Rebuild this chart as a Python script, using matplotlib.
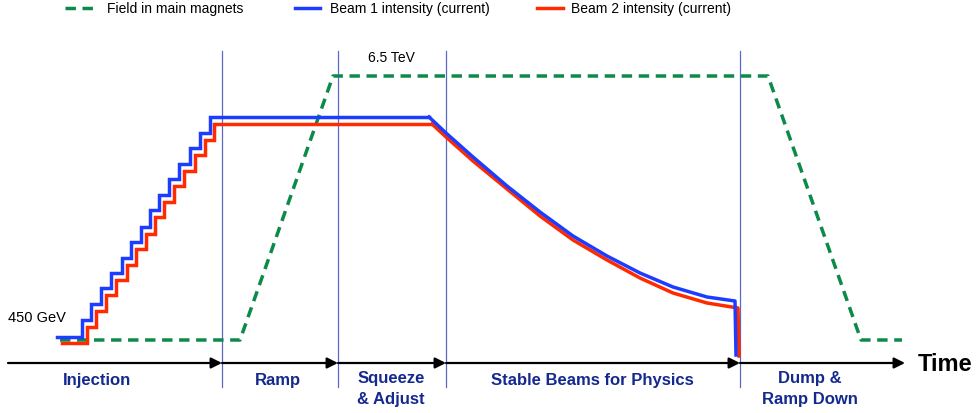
import matplotlib.pyplot as plt
from matplotlib.patches import FancyArrowPatch

plt.rcParams['font.family'] = ['Liberation Sans', 'DejaVu Sans']

# schematic units: x = time, y = level (arbitrary)
# beam 1 injection steps
b1_step_t = [57, 82, 91, 101, 111, 122, 131, 141, 150, 159, 169, 179, 190, 200, 210]
b1_step_v = [76, 93, 109, 125, 140, 155, 171, 186, 203, 218, 234, 249, 265, 280, 296]
# beam 1 flat top end + decay during physics + dump
b1_decay_t = [429, 446, 473, 507, 540, 573, 607, 640, 673, 707, 735, 736]
b1_decay_v = [296, 280, 256, 227, 201, 177, 157, 140, 126, 116, 112, 58]

# beam 2
b2_step_t = [62, 87, 96, 106, 116, 127, 136, 146, 155, 164, 174, 184, 195, 205, 214]
b2_step_v = [70, 86, 102, 118, 133, 148, 164, 179, 196, 211, 227, 242, 258, 273, 289]
b2_decay_t = [432, 446, 473, 507, 540, 573, 607, 640, 673, 707, 738, 739]
b2_decay_v = [289, 276, 252, 224, 197, 173, 153, 135, 120, 110, 105, 57]

# magnet field
field_t = [60, 240, 333, 768, 861, 902]
field_v = [73, 73, 337, 337, 73, 73]

# phase boundaries and labels
phase_edges = [8, 222, 338, 446, 740, 905]
phase_labels = ["Injection", "Ramp", "Squeeze\n& Adjust", "Stable Beams for Physics", "Dump &\nRamp Down"]
label_x = [97, 278, 391, 592, 810]

BLUE = "#1c3dff"
RED = "#ff2a00"
GREEN = "#0b8a4a"
NAVY = "#14298f"
VLINE = "#5a6ac4"
LW = 2.5

fig = plt.figure(figsize=(9.8, 4.14), dpi=100)
ax = fig.add_axes([0, 0, 1, 1])
ax.set_xlim(0, 980)
ax.set_ylim(0, 414)
ax.axis("off")

axis_y = 50

# vertical phase separators
for e in phase_edges[1:-1]:
    ax.plot([e, e], [26, 362], color=VLINE, lw=0.9, zorder=1)

# time axis arrows (one per phase)
for a, b in zip(phase_edges[:-1], phase_edges[1:]):
    ax.add_patch(FancyArrowPatch((a, axis_y), (b, axis_y), arrowstyle="-|>",
                                 mutation_scale=16, color="black", lw=1.6,
                                 shrinkA=0, shrinkB=0, zorder=2))

# field
ax.plot(field_t, field_v, color=GREEN, lw=LW, dashes=(3.0, 1.9), zorder=3)

# beams
ax.plot(b2_step_t + [b2_decay_t[0]], b2_step_v + [b2_step_v[-1]], color=RED, lw=LW,
        drawstyle="steps-post", zorder=4, solid_joinstyle="miter")
ax.plot(b2_decay_t, b2_decay_v, color=RED, lw=LW, zorder=4, solid_joinstyle="round")

ax.plot(b1_step_t + [b1_decay_t[0]], b1_step_v + [b1_step_v[-1]], color=BLUE, lw=LW,
        drawstyle="steps-post", zorder=5, solid_joinstyle="miter")
ax.plot(b1_decay_t, b1_decay_v, color=BLUE, lw=LW, zorder=5, solid_joinstyle="round")

# annotations
ax.text(8, 96, "450 GeV", fontsize=10.5, va="center", ha="left")
ax.text(368, 356, "6.5 TeV", fontsize=10, va="center", ha="left")
ax.text(918, 49, "Time", fontsize=17, fontweight="bold", va="center", ha="left")

for lx, lab in zip(label_x, phase_labels):
    if "\n" in lab:
        l1, l2 = lab.split("\n")
        ax.text(lx, 35, l1, fontsize=12, fontweight="bold", color=NAVY, ha="center", va="center")
        ax.text(lx, 14, l2, fontsize=12, fontweight="bold", color=NAVY, ha="center", va="center")
    else:
        ax.text(lx, 33, lab, fontsize=12, fontweight="bold", color=NAVY, ha="center", va="center")

# legend keys along the top
leg_y = 405
ax.plot([65, 95], [leg_y, leg_y], color=GREEN, lw=LW, dashes=(3.0, 1.9))
ax.text(107, leg_y, "Field in main magnets", fontsize=10, va="center", ha="left")
ax.plot([295, 320], [leg_y, leg_y], color=BLUE, lw=LW)
ax.text(330, leg_y, "Beam 1 intensity (current)", fontsize=10, va="center", ha="left")
ax.plot([537, 563], [leg_y, leg_y], color=RED, lw=LW)
ax.text(571, leg_y, "Beam 2 intensity (current)", fontsize=10, va="center", ha="left")

fig.savefig("out.png", dpi=100)
